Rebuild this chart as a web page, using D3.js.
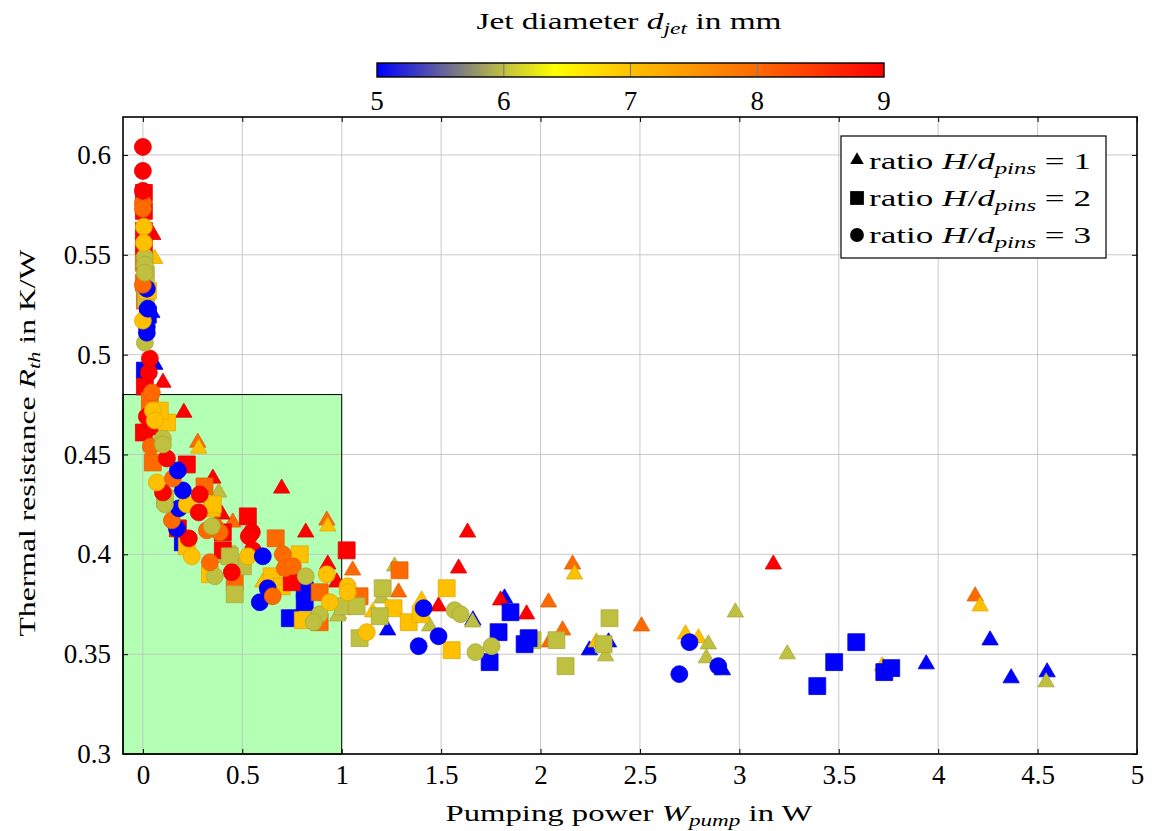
<!DOCTYPE html>
<html>
<head>
<meta charset="utf-8">
<script src="https://cdn.jsdelivr.net/npm/d3@7"></script>
<style>
  html, body { margin: 0; padding: 0; background: #fff; }
  svg text { font-family: "Liberation Serif", "DejaVu Serif", serif; fill: #000; }
</style>
</head>
<body>
<svg id="chart" width="1152" height="831"></svg>
<script>
// Each record: [pumping power W, thermal resistance K/W, jet diameter mm]
const ratio1 = [
  [1.633,0.411,9],[1.588,0.393,9],[1.055,0.392,8],[1.266,0.394,6],[0.975,0.386,9],
  [1.286,0.381,8],[1.201,0.378,6],[1.402,0.377,7],[1.156,0.371,7],[0.985,0.370,6],
  [1.487,0.374,9],[1.231,0.362,5],[1.442,0.364,6],[1.660,0.367,5],[1.658,0.366,6],
  [1.819,0.378,5],[1.799,0.377,9],[1.930,0.370,9],[2.040,0.376,8],[2.161,0.395,8],
  [2.171,0.390,7],[2.111,0.362,8],[2.045,0.356,8],[2.246,0.352,5],[2.281,0.356,7],
  [2.342,0.356,5],[2.327,0.349,6],[3.171,0.395,9],[2.980,0.371,6],[2.508,0.364,8],
  [2.729,0.360,7],[2.794,0.358,7],[2.844,0.355,6],[2.834,0.348,6],[2.915,0.342,5],
  [3.241,0.350,6],[3.719,0.344,7],[3.940,0.345,5],[4.186,0.379,8],[4.211,0.374,7],
  [4.261,0.357,5],[4.367,0.338,5],[4.548,0.341,5],[4.543,0.336,6],
  [0.698,0.433,9],[0.452,0.416,8],[0.819,0.411,9],[0.925,0.417,8],[0.930,0.414,7],
  [0.930,0.395,9],[0.980,0.369,6],[0.206,0.471,9],[0.276,0.456,8],[0.281,0.453,7],
  [0.352,0.438,9],[0.382,0.431,6],[0.101,0.486,9],[0.060,0.495,5],[0.050,0.560,9],
  [0.060,0.548,7],[0.045,0.521,5],[0.397,0.420,9],[0.603,0.386,7]
];
const ratio2 = [
  [1.025,0.402,9],[1.291,0.392,8],[1.206,0.383,6],[1.528,0.383,7],[1.090,0.379,8],
  [1.005,0.374,6],[1.075,0.374,6],[1.261,0.373,7],[1.191,0.369,6],[1.337,0.366,7],
  [1.397,0.370,7],[1.090,0.358,6],[1.553,0.352,7],[1.744,0.346,5],[1.849,0.371,5],
  [1.789,0.361,5],[1.960,0.357,6],[1.940,0.358,5],[1.920,0.355,5],[2.080,0.357,6],
  [2.126,0.344,6],[2.347,0.368,6],[2.317,0.355,6],[3.588,0.356,5],[3.477,0.346,5],
  [3.392,0.334,5],[3.729,0.341,5],[3.764,0.343,5],
  [0.528,0.419,9],[0.668,0.408,8],[0.789,0.400,7],[0.462,0.386,8],[0.462,0.380,6],
  [0.814,0.382,5],[0.814,0.376,5],[0.739,0.368,5],[0.804,0.367,7],[0.889,0.381,8],
  [0.889,0.366,8],[0.648,0.389,7],[0.698,0.384,7],[0.749,0.386,9],[0.427,0.400,6],
  [0.503,0.394,6],[0.402,0.402,9],[0.337,0.390,7],[0.347,0.423,7],[0.402,0.411,9],
  [0.201,0.406,5],[0.221,0.445,9],[0.050,0.446,8],[0.045,0.464,9],[0.121,0.466,7],
  [0.111,0.428,6],[0.310,0.434,8],[0.352,0.425,7],[0.437,0.399,6],[0.221,0.404,7],
  [0.176,0.413,9],
  [0.005,0.581,9],[0.005,0.572,9],[0.005,0.562,9],[0.005,0.554,9],[0.005,0.546,8],
  [0.005,0.536,8],[0.010,0.527,8],[0.015,0.540,6],[0.015,0.528,6],[0.025,0.532,7],
  [0.025,0.520,5],[0.010,0.492,5],[0.010,0.484,9],[0.035,0.477,8],[0.085,0.472,7],
  [0.005,0.461,9]
];
const ratio3 = [
  [1.030,0.384,7],[1.030,0.381,7],[1.412,0.373,5],[1.568,0.372,6],[1.598,0.370,6],
  [1.487,0.359,5],[1.387,0.354,5],[1.126,0.361,7],[1.673,0.351,6],[1.754,0.354,6],
  [2.749,0.356,5],[2.698,0.340,5],[2.894,0.344,5],
  [0.548,0.411,9],[0.533,0.409,9],[0.553,0.402,9],[0.528,0.399,7],[0.603,0.399,5],
  [0.704,0.400,8],[0.714,0.393,8],[0.754,0.394,8],[0.819,0.389,6],[0.925,0.390,7],
  [0.447,0.391,9],[0.628,0.383,5],[0.588,0.376,5],[0.653,0.379,8],[0.889,0.370,6],
  [0.859,0.366,6],[0.940,0.376,7],[0.362,0.389,6],[0.337,0.396,8],[0.322,0.412,8],
  [0.362,0.414,8],[0.387,0.411,8],[0.347,0.414,6],[0.246,0.399,7],[0.231,0.408,9],
  [0.171,0.413,5],[0.146,0.417,8],[0.181,0.423,5],[0.221,0.425,7],[0.111,0.425,6],
  [0.281,0.421,9],[0.286,0.430,9],[0.201,0.432,5],[0.101,0.431,9],[0.070,0.436,7],
  [0.151,0.438,8],[0.176,0.442,5],[0.121,0.448,9],[0.040,0.454,8],[0.101,0.458,6],
  [0.101,0.455,6],[0.020,0.469,9],[0.050,0.472,7],[0.060,0.467,7],[0.045,0.481,8],
  [0.030,0.491,9],[0.035,0.498,9],[0.010,0.506,6],[0.020,0.514,5],[0.020,0.511,5],
  [0.000,0.517,7],[0.025,0.523,5],[0.020,0.533,5],[0.000,0.535,8],[0.010,0.549,6],
  [0.010,0.545,6],[0.010,0.541,6],[0.005,0.564,7],[0.005,0.556,7],[0.000,0.576,8],
  [0.000,0.573,8],[0.000,0.582,9],[0.000,0.592,9],[0.000,0.604,9]
];

const xTicks = [0, 0.5, 1, 1.5, 2, 2.5, 3, 3.5, 4, 4.5, 5];
const yTicks = [0.3, 0.35, 0.4, 0.45, 0.5, 0.55, 0.6];
const colorTicks = [5, 6, 7, 8, 9];
const mapStops = [5, 6, 6.4, 7, 8, 9];
const mapColors = ["#0000ff", "#bfbf40", "#ffff00", "#ffc000", "#ff6a00", "#ff0000"];
const regionW = [-0.1, 1];
const regionR = [0.3, 0.48];
const legendLabels = ["1", "2", "3"];

const svg = d3.select("#chart");
const L = 123, R = 1137, T = 117, B = 754;

const x = d3.scaleLinear().domain([-0.1, 5]).range([L, R]);
const y = d3.scaleLinear().domain([0.3, 0.619]).range([B, T]);
const cmap = d3.scaleLinear().domain(mapStops).range(mapColors).interpolate(d3.interpolateRgb).clamp(true);

// favourable region (low pumping power, low resistance)
svg.append("rect")
  .attr("x", x(regionW[0])).attr("y", y(regionR[1]))
  .attr("width", x(regionW[1]) - x(regionW[0]))
  .attr("height", y(regionR[0]) - y(regionR[1]))
  .attr("fill", "#b3ffb3");

// grid
const grid = svg.append("g").attr("stroke", "#bfbfbf").attr("stroke-opacity", 0.85).attr("stroke-width", 1);
xTicks.forEach(t => grid.append("line").attr("x1", x(t)).attr("x2", x(t)).attr("y1", T).attr("y2", B));
yTicks.forEach(t => grid.append("line").attr("x1", L).attr("x2", R).attr("y1", y(t)).attr("y2", y(t)));

svg.append("rect")
  .attr("x", x(regionW[0])).attr("y", y(regionR[1]))
  .attr("width", x(regionW[1]) - x(regionW[0]))
  .attr("height", y(regionR[0]) - y(regionR[1]))
  .attr("fill", "none").attr("stroke", "#000").attr("stroke-width", 1);

// markers
const tri = d3.symbol().type(d3.symbolTriangle).size(115);
const sq = d3.symbol().type(d3.symbolSquare).size(285);
const circ = d3.symbol().type(d3.symbolCircle).size(225);
const marks = svg.append("g");
function drawSeries(data, sym) {
  marks.selectAll(null).data(data).enter().append("path")
    .attr("d", sym)
    .attr("transform", d => `translate(${x(d[0])},${y(d[1])})`)
    .attr("fill", d => cmap(d[2]))
    .attr("stroke", d => d3.color(cmap(d[2])).darker(0.35))
    .attr("stroke-width", 0.8);
}
drawSeries(ratio1, tri);
drawSeries(ratio2, sq);
drawSeries(ratio3, circ);

// axes
const xAxis = d3.axisBottom(x).tickValues(xTicks).tickSize(-5).tickPadding(11).tickFormat(d3.format("~g"));
const xAxisTop = d3.axisTop(x).tickValues(xTicks).tickSize(-5).tickFormat("");
const yAxis = d3.axisLeft(y).tickValues(yTicks).tickSize(-5).tickPadding(12).tickFormat(d3.format("~g"));
const yAxisR = d3.axisRight(y).tickValues(yTicks).tickSize(-5).tickFormat("");
[
  svg.append("g").attr("transform", `translate(0,${B})`).call(xAxis),
  svg.append("g").attr("transform", `translate(0,${T})`).call(xAxisTop),
  svg.append("g").attr("transform", `translate(${L},0)`).call(yAxis),
  svg.append("g").attr("transform", `translate(${R},0)`).call(yAxisR)
].forEach(g => {
  g.select(".domain").remove();
  g.selectAll(".tick line").attr("stroke", "#000").attr("stroke-width", 1);
  g.selectAll("text").style("font-size", "27px").attr("fill", "#000");
});

svg.append("rect").attr("x", L).attr("y", T).attr("width", R - L).attr("height", B - T)
  .attr("fill", "none").attr("stroke", "#000").attr("stroke-width", 1.6);

// text with italic math parts and subscripts, stretched to a set width
function mathLabel(g, parts, len) {
  parts.forEach(p => {
    const ts = g.append("tspan").text(p.t);
    if (p.i) ts.style("font-style", "italic");
    if (p.sub) ts.attr("baseline-shift", "-28%").style("font-size", "17px");
  });
  if (len) g.attr("textLength", len).attr("lengthAdjust", "spacingAndGlyphs");
}
const xl = svg.append("text").attr("x", 629).attr("y", 821).attr("text-anchor", "middle").style("font-size", "24px");
mathLabel(xl, [{t: "Pumping power "}, {t: "W", i: true}, {t: "pump", i: true, sub: true}, {t: " in W"}], 367);

const yl = svg.append("text").attr("transform", "translate(35,443) rotate(-90)").attr("text-anchor", "middle").style("font-size", "24px");
mathLabel(yl, [{t: "Thermal resistance "}, {t: "R", i: true}, {t: "th", i: true, sub: true}, {t: " in K/W"}], 387);

// colour bar
const cbL = 377, cbR = 884, cbT = 63, cbB = 77;
const cb = d3.scaleLinear().domain([5, 9]).range([cbL, cbR]);
const grad = svg.append("defs").append("linearGradient").attr("id", "cbgrad");
d3.range(0, 41).forEach(i => {
  const v = 5 + i * 0.1;
  grad.append("stop").attr("offset", (i / 40 * 100) + "%").attr("stop-color", cmap(v));
});
svg.append("rect").attr("x", cbL).attr("y", cbT).attr("width", cbR - cbL).attr("height", cbB - cbT)
  .attr("fill", "url(#cbgrad)");
colorTicks.slice(1, -1).forEach(t => {
  svg.append("line").attr("x1", cb(t)).attr("x2", cb(t)).attr("y1", cbT).attr("y2", cbB)
    .attr("stroke", "#808080").attr("stroke-width", 1.2);
});
svg.append("rect").attr("x", cbL).attr("y", cbT).attr("width", cbR - cbL).attr("height", cbB - cbT)
  .attr("fill", "none").attr("stroke", "#000").attr("stroke-width", 1.4);
colorTicks.forEach(t => {
  svg.append("text").attr("x", cb(t)).attr("y", 110).attr("text-anchor", "middle")
    .style("font-size", "27px").text(t);
});
const ct = svg.append("text").attr("x", 629).attr("y", 29).attr("text-anchor", "middle").style("font-size", "24px");
mathLabel(ct, [{t: "Jet diameter "}, {t: "d", i: true}, {t: "jet", i: true, sub: true}, {t: " in mm"}], 305);

// legend
const lg = svg.append("g");
lg.append("rect").attr("x", 841).attr("y", 136).attr("width", 265).attr("height", 122)
  .attr("fill", "#fff").attr("stroke", "#000").attr("stroke-width", 1.2);
const legendSyms = [
  d3.symbol().type(d3.symbolTriangle).size(80),
  d3.symbol().type(d3.symbolSquare).size(190),
  d3.symbol().type(d3.symbolCircle).size(150)
];
legendLabels.forEach((lab, i) => {
  const cy = 161 + i * 37;
  lg.append("path").attr("d", legendSyms[i]).attr("transform", `translate(857,${cy - (i === 0 ? 1 : 0)})`).attr("fill", "#000");
  const t = lg.append("text").attr("x", 869).attr("y", cy + 8).style("font-size", "24px");
  mathLabel(t, [{t: "ratio "}, {t: "H", i: true}, {t: "/"}, {t: "d", i: true}, {t: "pins", i: true, sub: true}, {t: "  =  " + lab}], 222);
});
</script>
</body>
</html>
